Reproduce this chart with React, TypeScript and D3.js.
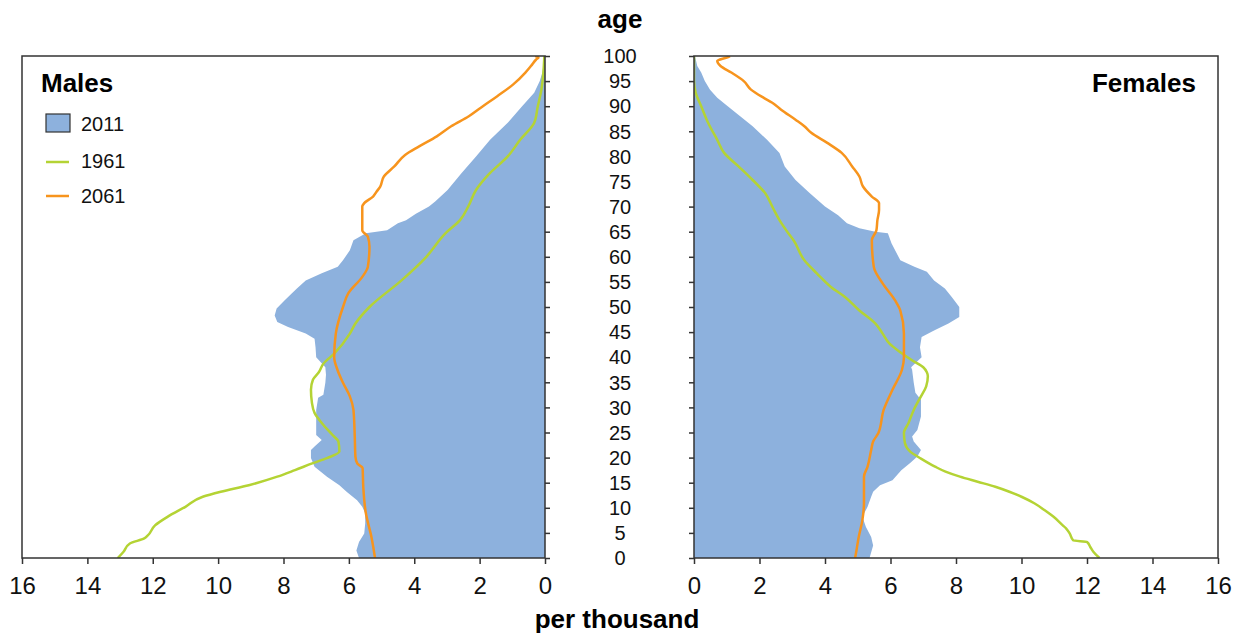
import React, { useEffect, useRef } from "react";
import * as d3 from "d3";

// age ticks shown between the panels, per-thousand ticks under each panel
const ageTicks = [0, 5, 10, 15, 20, 25, 30, 35, 40, 45, 50, 55, 60, 65, 70, 75, 80, 85, 90, 95, 100];
const valueTicks = [0, 2, 4, 6, 8, 10, 12, 14, 16];

// [age, per thousand]
const males2011: [number, number][] = [
  [0, 5.69], [1.5, 5.77], [3.2, 5.69], [4.9, 5.53], [6.9, 5.5], [8.9, 5.5], [10.2, 5.59], [11.5, 5.75],
  [13.2, 6.07], [14.5, 6.29], [16.2, 6.67], [18.2, 7.05], [19.9, 7.16], [21.5, 7.16], [22.2, 7.05],
  [23.5, 6.83], [24.5, 7.0], [27.5, 7.0], [29.5, 7.0], [31.9, 6.94], [32.5, 6.78], [34.9, 6.72],
  [36.5, 6.7], [38, 6.72], [40, 7.0], [42, 7.02], [43.7, 7.05], [44.7, 7.32], [46, 7.86], [47, 8.19],
  [48.3, 8.27], [49.7, 8.21], [51.3, 7.97], [52.7, 7.75], [53.7, 7.59], [55.3, 7.32], [56.7, 6.83],
  [58, 6.34], [59.3, 6.18], [61.3, 5.97], [63.3, 5.86], [64.7, 5.48], [65.3, 4.83], [66.7, 4.5],
  [67.3, 4.25], [68.6, 3.95], [70, 3.55], [71, 3.36], [73.3, 2.98], [76.7, 2.55], [80, 2.11],
  [83.3, 1.68], [86.7, 1.14], [90, 0.7], [92.7, 0.33], [95, 0.16], [96.7, 0.08], [99.3, 0.02], [100, 0],
];

const males1961: [number, number][] = [
  [0, 13.07], [1.2, 12.9], [2.9, 12.7], [3.9, 12.26], [4.5, 12.15], [6.5, 11.93], [8.2, 11.55],
  [10.2, 11.0], [12.2, 10.47], [13.2, 9.92], [14.5, 9.06], [16.2, 8.19], [17.5, 7.65], [18.9, 7.1],
  [19.9, 6.67], [21.2, 6.29], [23.2, 6.32], [24.5, 6.5], [26.9, 6.83], [28.9, 7.05], [30.9, 7.13],
  [33.5, 7.16], [35.5, 7.1], [37, 6.92], [38.7, 6.78], [40.7, 6.45], [44.7, 5.97], [46.7, 5.8],
  [50, 5.37], [55.3, 4.39], [60, 3.63], [64.7, 3.04], [67.3, 2.6], [70, 2.35], [73.3, 2.11],
  [76.7, 1.68], [80, 1.14], [83.3, 0.76], [86.7, 0.33], [90, 0.22], [93.3, 0.11], [96.7, 0.05], [100, 0.02],
];

const males2061: [number, number][] = [
  [0, 5.2], [4.2, 5.31], [8.9, 5.48], [14.2, 5.56], [17.9, 5.58], [18.8, 5.74], [20.2, 5.8],
  [24.2, 5.82], [29.5, 5.86], [32.2, 5.97], [34.9, 6.18], [37.5, 6.35], [40, 6.45], [44.7, 6.4],
  [50, 6.18], [52.7, 6.02], [56, 5.59], [58, 5.42], [62, 5.37], [64, 5.42], [65.3, 5.59], [70, 5.59],
  [70.7, 5.53], [72, 5.26], [73, 5.15], [74, 5.04], [76, 4.93], [78, 4.61], [80.3, 4.28], [82, 3.85],
  [84, 3.31], [86, 2.87], [88, 2.33], [90, 1.9], [92, 1.46], [94.3, 0.98], [96.7, 0.6], [98, 0.43],
  [99.3, 0.27], [99.7, 0.2], [100, 0.3],
];

const females2011: [number, number][] = [
  [0, 5.36], [2.5, 5.47], [4.2, 5.41], [6.2, 5.25], [8.2, 5.14], [10.2, 5.3], [12.2, 5.41], [13.2, 5.47],
  [14.5, 5.68], [15.5, 6.06], [17.5, 6.33], [18.9, 6.6], [20.2, 6.82], [21.5, 6.93], [23.2, 6.71],
  [24.2, 6.66], [25.5, 6.82], [28.2, 6.93], [31.5, 6.93], [32.9, 6.76], [34.9, 6.71], [37.5, 6.66],
  [38, 6.63], [40, 6.95], [42, 6.9], [44, 6.95], [45.3, 7.33], [46.7, 7.77], [48, 8.1], [50, 8.1],
  [52, 7.87], [53.7, 7.66], [55.3, 7.33], [57, 7.11], [58, 6.73], [59.3, 6.3], [62.7, 6.03],
  [64.7, 5.92], [65, 5.54], [65.7, 5.05], [66.7, 4.67], [68.3, 4.4], [70, 4.0], [72.7, 3.53],
  [75.3, 3.1], [78, 2.77], [80.7, 2.61], [83.3, 2.23], [86, 1.79], [88, 1.41], [90, 1.03],
  [91.7, 0.71], [93.3, 0.49], [95, 0.33], [96.7, 0.22], [98, 0.1], [100, 0.03],
];

const females1961: [number, number][] = [
  [0, 12.38], [1.2, 12.2], [2.2, 12.1], [3.2, 12.0], [3.5, 11.58], [4.9, 11.47], [5.9, 11.36],
  [6.5, 11.26], [8.2, 10.98], [9.5, 10.71], [10.9, 10.39], [12.2, 10.0], [13.2, 9.63], [14.2, 9.2],
  [15.2, 8.66], [16.2, 8.12], [17.2, 7.68], [18.2, 7.36], [19.8, 6.93], [21.2, 6.6], [22.9, 6.44],
  [24.9, 6.41], [26.9, 6.55], [29.5, 6.71], [32.2, 6.93], [34.2, 7.09], [36.2, 7.14], [37, 7.11],
  [38, 7.0], [39.3, 6.68], [41, 6.3], [42.7, 5.97], [44.7, 5.76], [46.7, 5.54], [49.3, 5.05],
  [52, 4.61], [54, 4.18], [56.7, 3.75], [59.3, 3.37], [63.3, 3.04], [64.7, 2.88], [67.3, 2.61],
  [70, 2.39], [72.7, 2.17], [75.3, 1.79], [78, 1.36], [80.7, 0.92], [83.3, 0.71], [86.7, 0.43],
  [90, 0.22], [92.7, 0.05], [95, 0], [100, 0],
];

const females2061: [number, number][] = [
  [0, 4.92], [1.5, 4.96], [4.2, 5.03], [7.5, 5.14], [10.9, 5.19], [14.2, 5.19], [16.2, 5.19],
  [18.2, 5.3], [21.5, 5.41], [23.2, 5.47], [24.9, 5.63], [29.5, 5.79], [33.5, 6.06], [37.5, 6.35],
  [40, 6.41], [44.7, 6.41], [49.3, 6.3], [51.3, 6.14], [54.7, 5.76], [58, 5.49], [63.3, 5.43],
  [65.3, 5.57], [67.3, 5.6], [69.3, 5.65], [70.7, 5.65], [72, 5.43], [74, 5.16], [76, 5.05],
  [78, 4.83], [80.7, 4.51], [82.7, 4.07], [84.7, 3.58], [86, 3.37], [87.3, 3.1], [89.3, 2.66],
  [90.7, 2.39], [91.7, 2.12], [93.3, 1.74], [95, 1.52], [96.7, 1.14], [98, 0.81], [99, 0.71],
  [99.7, 1.0], [100, 1.1],
];

const BLUE = "#8db1dd";
const GREEN = "#b4d334";
const ORANGE = "#f7941d";
const FONT = "'Liberation Sans', Arial, sans-serif";

export default function App() {
  const ref = useRef<SVGSVGElement>(null);

  useEffect(() => {
    const svg = d3.select(ref.current);
    svg.selectAll("*").remove();

    const y = d3.scaleLinear().domain([0, 100]).range([558, 56]);
    const xL = d3.scaleLinear().domain([16, 0]).range([22, 545]);
    const xR = d3.scaleLinear().domain([0, 16]).range([694, 1218]);

    const drawPanel = (
      x: d3.ScaleLinear<number, number>,
      pop: [number, number][],
      old: [number, number][],
      future: [number, number][],
      axisX: number,
      isLeft: boolean,
      id: string
    ) => {
      const [r0, r1] = x.range();
      const left = Math.min(r0, r1), right = Math.max(r0, r1);
      const g = svg.append("g");

      g.append("clipPath").attr("id", id)
        .append("rect").attr("x", left).attr("y", y(100)).attr("width", right - left).attr("height", y(0) - y(100));

      const area = d3.area<[number, number]>()
        .y(d => y(d[0]))
        .x0(x(0))
        .x1(d => x(d[1]));
      g.append("path").datum(pop).attr("d", area).attr("fill", BLUE).attr("clip-path", `url(#${id})`);

      const line = d3.line<[number, number]>()
        .x(d => x(d[1]))
        .y(d => y(d[0]))
        .curve(d3.curveMonotoneY);
      g.append("path").datum(old).attr("d", line).attr("fill", "none")
        .attr("stroke", GREEN).attr("stroke-width", 2.5).attr("clip-path", `url(#${id})`);
      g.append("path").datum(future).attr("d", line).attr("fill", "none")
        .attr("stroke", ORANGE).attr("stroke-width", 2.5).attr("clip-path", `url(#${id})`);

      // frame
      g.append("rect").attr("x", left).attr("y", y(100)).attr("width", right - left).attr("height", y(0) - y(100))
        .attr("fill", "none").attr("stroke", "#333").attr("stroke-width", 1.5);

      // age ticks on the inner side
      const ageAxis = (isLeft ? d3.axisRight(y) : d3.axisLeft(y))
        .tickValues(ageTicks).tickSize(5).tickSizeOuter(0).tickFormat(() => "");
      g.append("g").attr("transform", `translate(${axisX},0)`).call(ageAxis)
        .call(s => s.select(".domain").remove())
        .call(s => s.selectAll("line").attr("stroke", "#333").attr("stroke-width", 1.5));

      // bottom axis
      g.append("g").attr("transform", `translate(0,${y(0)})`)
        .call(d3.axisBottom(x).tickValues(valueTicks).tickSize(6).tickSizeOuter(0).tickPadding(13))
        .call(s => s.select(".domain").remove())
        .call(s => s.selectAll("line").attr("stroke", "#333").attr("stroke-width", 1.5))
        .call(s => s.selectAll("text").attr("font-size", 24).attr("font-family", FONT).attr("fill", "#111"));
    };

    drawPanel(xL, males2011, males1961, males2061, 545, true, "clipM");
    drawPanel(xR, females2011, females1961, females2061, 694, false, "clipF");

    // age labels between the panels
    svg.append("g").selectAll("text").data(ageTicks).join("text")
      .attr("x", 620).attr("y", d => y(d)).attr("dy", "0.36em")
      .attr("text-anchor", "middle").attr("font-size", 20).attr("font-family", FONT).attr("fill", "#111")
      .text(d => d);

    svg.append("text").attr("x", 620).attr("y", 28).attr("text-anchor", "middle")
      .attr("font-size", 26).attr("font-weight", "bold").attr("font-family", FONT).text("age");
    svg.append("text").attr("x", 617).attr("y", 628).attr("text-anchor", "middle")
      .attr("font-size", 26).attr("font-weight", "bold").attr("font-family", FONT).text("per thousand");

    svg.append("text").attr("x", 41).attr("y", 92)
      .attr("font-size", 26).attr("font-weight", "bold").attr("font-family", FONT).text("Males");
    svg.append("text").attr("x", 1196).attr("y", 92).attr("text-anchor", "end")
      .attr("font-size", 26).attr("font-weight", "bold").attr("font-family", FONT).text("Females");

    // legend
    const legend = svg.append("g").attr("font-family", FONT).attr("font-size", 20).attr("fill", "#111");
    legend.append("rect").attr("x", 46).attr("y", 114).attr("width", 24).attr("height", 18)
      .attr("fill", BLUE).attr("stroke", "#333").attr("stroke-width", 1.2);
    legend.append("text").attr("x", 81).attr("y", 124).attr("dy", "0.36em").text("2011");
    legend.append("line").attr("x1", 46).attr("x2", 69).attr("y1", 162).attr("y2", 162)
      .attr("stroke", GREEN).attr("stroke-width", 2.5);
    legend.append("text").attr("x", 81).attr("y", 161).attr("dy", "0.36em").text("1961");
    legend.append("line").attr("x1", 46).attr("x2", 69).attr("y1", 196).attr("y2", 196)
      .attr("stroke", ORANGE).attr("stroke-width", 2.5);
    legend.append("text").attr("x", 81).attr("y", 196).attr("dy", "0.36em").text("2061");
  }, []);

  return (
    <svg
      ref={ref}
      width={1239}
      height={635}
      style={{ position: "absolute", left: 0, top: 0, background: "#fff" }}
    />
  );
}
